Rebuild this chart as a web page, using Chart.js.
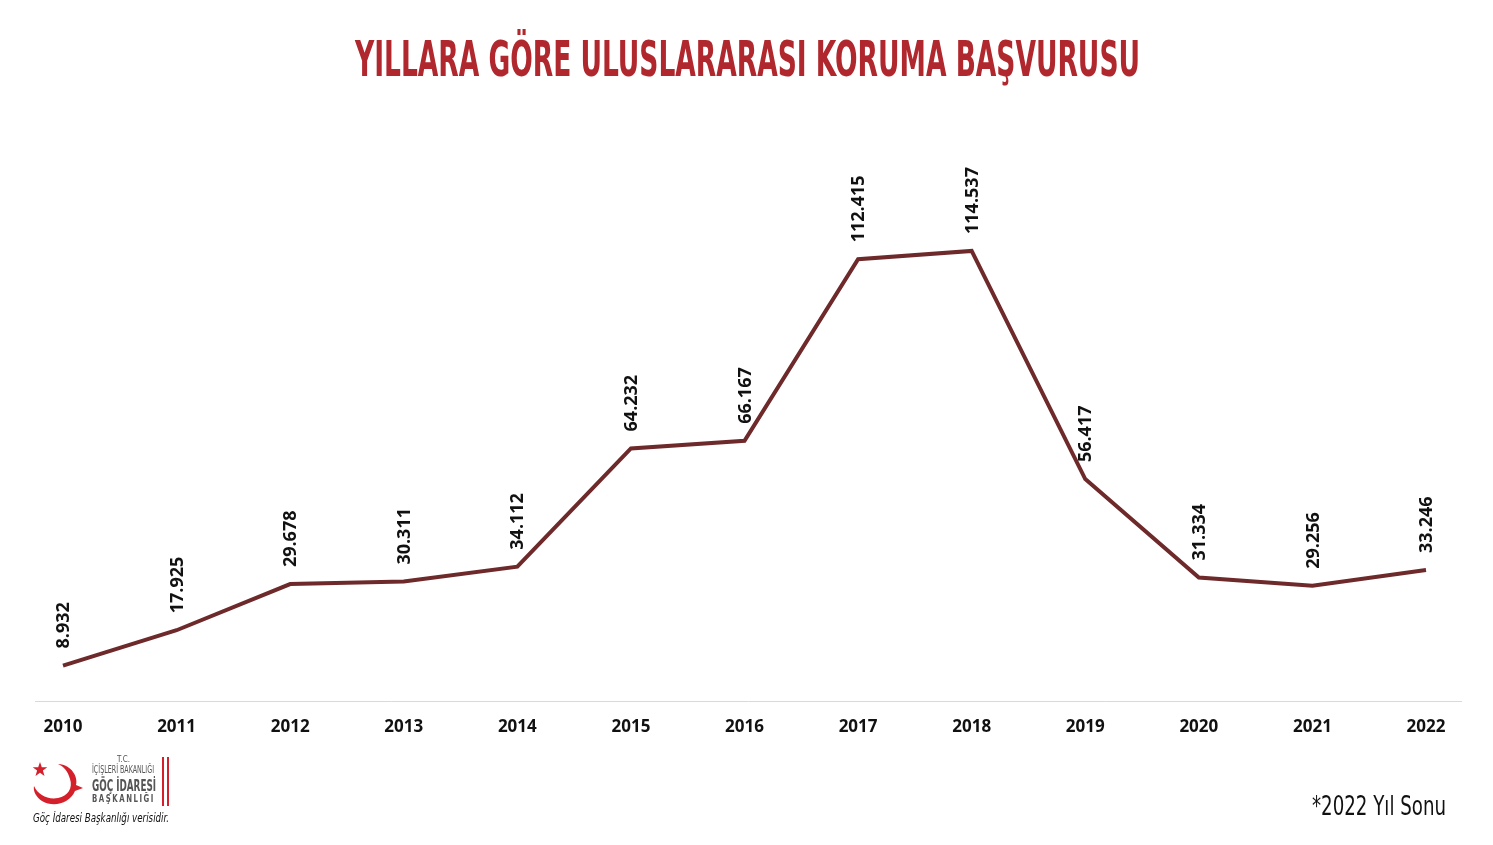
<!DOCTYPE html>
<html>
<head>
<meta charset="utf-8">
<script src="https://cdn.jsdelivr.net/npm/chart.js@4.4.1/dist/chart.umd.min.js"></script>
<style>
  html, body { margin:0; padding:0; background:#fff; }
  #wrap { position:relative; width:1493px; height:845px; overflow:hidden; }
  #c { position:absolute; left:0; top:0; }
  .fit { position:absolute; white-space:nowrap; transform-origin:left top; }
  #title { font-family:"DejaVu Sans Condensed","DejaVu Sans",sans-serif; font-weight:bold; font-size:49px; color:#b0272d; left:355px; top:31px; }
  #note { font-family:"DejaVu Sans Condensed","DejaVu Sans",sans-serif; font-size:26px; color:#111; left:1312px; top:791px; }
  #src { font-family:"DejaVu Sans Condensed","DejaVu Sans",sans-serif; font-style:italic; font-size:13px; color:#111; left:33px; top:810px; }
  .lg { position:absolute; white-space:nowrap; transform-origin:left top; font-family:"DejaVu Sans Condensed","DejaVu Sans",sans-serif; color:#555; }
</style>
</head>
<body>
<div id="wrap">
  <canvas id="c" width="1493" height="845"></canvas>
  <div id="title" class="fit" data-w="785">YILLARA GÖRE ULUSLARARASI KORUMA BAŞVURUSU</div>
  <div id="note" class="fit" data-w="134">*2022 Yıl Sonu</div>
  <div id="src" class="fit" data-w="136">Göç İdaresi Başkanlığı verisidir.</div>
  <svg style="position:absolute;left:28px;top:755px" width="60" height="55" viewBox="0 0 60 55">
    <polygon fill="#d4202b" points="12,7 13.8,12.2 19.3,12.3 14.9,15.6 16.5,20.9 12,17.8 7.5,20.9 9.1,15.6 4.7,12.3 10.2,12.2"/>
    <path fill="#d4202b" d="M30,9 C44,10 50,22 48,30 L55,33 L47,36 C42,48 26,53 14,46 C8,42 5,36 6,31 C10,40 20,45 30,43 C40,41 45,33 42,24 C40,16 35,11 30,9 Z"/>
  </svg>
  <div class="lg fit" data-w="13" style="left:117px;top:754px;font-size:9px;">T.C.</div>
  <div class="lg fit" data-w="62" style="left:92px;top:764px;font-size:10px;">İÇİŞLERİ BAKANLIĞI</div>
  <div class="lg fit" data-w="64" style="left:92px;top:776px;font-size:16px;font-weight:bold;">GÖÇ İDARESİ</div>
  <div class="lg fit" data-w="63" style="left:92px;top:793px;font-size:10px;font-weight:bold;letter-spacing:2px;">BAŞKANLIĞI</div>
  <div style="position:absolute;left:162px;top:757px;width:2px;height:49px;background:#d4202b"></div>
  <div style="position:absolute;left:167px;top:757px;width:2px;height:49px;background:#d4202b"></div>
</div>
<script>
const years = ["2010","2011","2012","2013","2014","2015","2016","2017","2018","2019","2020","2021","2022"];
const applications = [8932, 17925, 29678, 30311, 34112, 64232, 66167, 112415, 114537, 56417, 31334, 29256, 33246];

document.querySelectorAll('.fit').forEach(el => {
  const w = el.getBoundingClientRect().width;
  const target = parseFloat(el.dataset.w);
  el.style.transform = 'scaleX(' + (target / w) + ')';
});

function fmt(v) {
  return String(v).replace(/\B(?=(\d{3})+(?!\d))/g, '.');
}

const labelPlugin = {
  id: 'vlabels',
  afterDatasetsDraw(chart) {
    const ctx = chart.ctx;
    const meta = chart.getDatasetMeta(0);
    ctx.save();
    ctx.font = 'bold 18px "Open Sans", sans-serif';
    ctx.fillStyle = '#111';
    ctx.textAlign = 'left';
    ctx.textBaseline = 'middle';
    meta.data.forEach((pt, i) => {
      ctx.save();
      ctx.translate(pt.x, pt.y - 17);
      ctx.rotate(-Math.PI / 2);
      ctx.fillText(fmt(chart.data.datasets[0].data[i]), 0, 1);
      ctx.restore();
    });
    ctx.restore();
  },
  beforeDatasetsDraw(chart) {
    const ctx = chart.ctx;
    const y = chart.scales.y.getPixelForValue(0);
    ctx.save();
    ctx.strokeStyle = '#d9d9d9';
    ctx.lineWidth = 1;
    ctx.beginPath();
    ctx.moveTo(35, Math.round(y) + 0.5);
    ctx.lineTo(1462, Math.round(y) + 0.5);
    ctx.stroke();
    ctx.restore();
  }
};

new Chart(document.getElementById('c'), {
  type: 'line',
  data: {
    labels: years,
    datasets: [{
      data: applications,
      borderColor: '#6e2a2a',
      borderWidth: 4,
      pointRadius: 0,
      tension: 0,
      fill: false
    }]
  },
  options: {
    responsive: false,
    animation: false,
    layout: { padding: { left: 63, right: 67, top: 151, bottom: 92 } },
    plugins: { legend: { display: false }, title: { display: false }, tooltip: { enabled: false } },
    scales: {
      x: {
        offset: false,
        grid: { display: false, drawTicks: false },
        border: { display: false },
        ticks: { color: '#111', font: { family: '"Open Sans", sans-serif', weight: 'bold', size: 17 }, padding: 16, maxRotation: 0, autoSkip: false }
      },
      y: {
        display: false,
        min: 0,
        max: 140000
      }
    }
  },
  plugins: [labelPlugin]
});
</script>
</body>
</html>
